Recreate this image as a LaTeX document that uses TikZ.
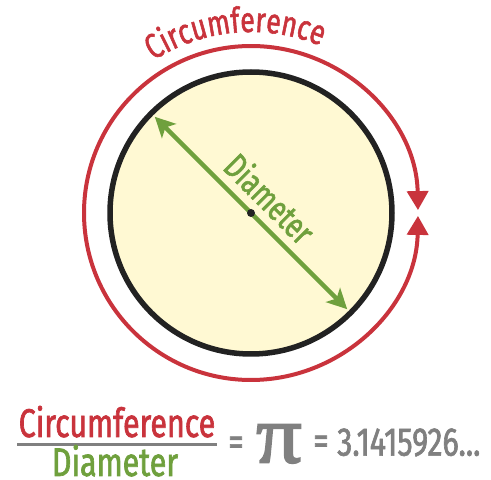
\documentclass[tikz,border=0pt]{standalone}
\usepackage{fontspec}
\setmainfont{Fira Sans}
\newfontfamily\condfont[FakeStretch=0.76, FakeBold=1.6]{Fira Sans}
\newfontfamily\pifont[FakeBold=2.5, FakeStretch=1.1]{Liberation Serif}
\usetikzlibrary{arrows.meta,decorations.text,calc}
\definecolor{cred}{HTML}{C9333C}
\definecolor{cgreen}{HTML}{6FA03D}
\definecolor{cgray}{HTML}{808080}
\definecolor{cream}{HTML}{FFF9D3}
\definecolor{ink}{HTML}{222222}
\newcommand{\bigf}{\condfont\fontsize{40}{40}\selectfont}
\newcommand{\midf}{\condfont\fontsize{35}{35}\selectfont}
\begin{document}
\begin{tikzpicture}[x=1pt,y=1pt,
  ring/.style={draw=ink, line width=5.5pt, fill=cream},
  circline/.style={draw=cred, line width=4pt},
  formula/.style={font=\bigf, inner sep=0pt}]
\useasboundingbox (0,0) rectangle (491,480);
\coordinate (C) at (251,267);
% disk
\draw[ring] (C) circle[radius=141];
% circumference arrow
\coordinate (cS) at ($(C)+(1:167)$);
\draw[circline, {Triangle[width=21pt,length=19pt]}-{Triangle[width=21pt,length=19pt]}] (cS) arc[start angle=1, end angle=359, radius=167];
% curved label
\coordinate (tS) at ($(C)+(150:181)$);
\path[decorate, decoration={text along path, text align=center, text color=cred,
  text={|\midf|Circumference}}] (tS) arc[start angle=150, end angle=40, radius=181];
% diameter
\coordinate (dA) at ($(C)+(135:136)$);
\coordinate (dB) at ($(C)+(-45:136)$);
\draw[line width=4.5pt, cgreen, {Stealth[length=20pt,width=20pt,inset=5pt]}-{Stealth[length=20pt,width=20pt,inset=5pt]}] (dA) -- (dB);
\node[circle, fill=ink, inner sep=0pt, minimum size=8pt] (ctr) at (C) {};
\node[rotate=-45, text=cgreen, font=\midf, inner sep=0pt] (dlab) at ($(C)+(-45:3)+(45:24)$) {Diameter};
% formula
\node[formula, anchor=base, text=cred] (num) at (117,43) {Circumference};
\coordinate (barL) at (17,35.5);
\coordinate (barR) at (217,35.5);
\draw[cgray, line width=3pt] (barL) -- (barR);
\node[formula, anchor=base, text=cgreen] (den) at (115,4) {Diameter};
\node[formula, text=cgray] (eq1) at (236,34) {=};
\node[text=cgray, inner sep=0pt, font=\pifont\fontsize{82}{82}\selectfont] (pi) at (279,36) {π};
\node[formula, text=cgray] (eq2) at (321,35) {=};
\node[formula, anchor=west, text=cgray] (val) at (337,37.5) {3.1415926...};
\end{tikzpicture}
\end{document}
